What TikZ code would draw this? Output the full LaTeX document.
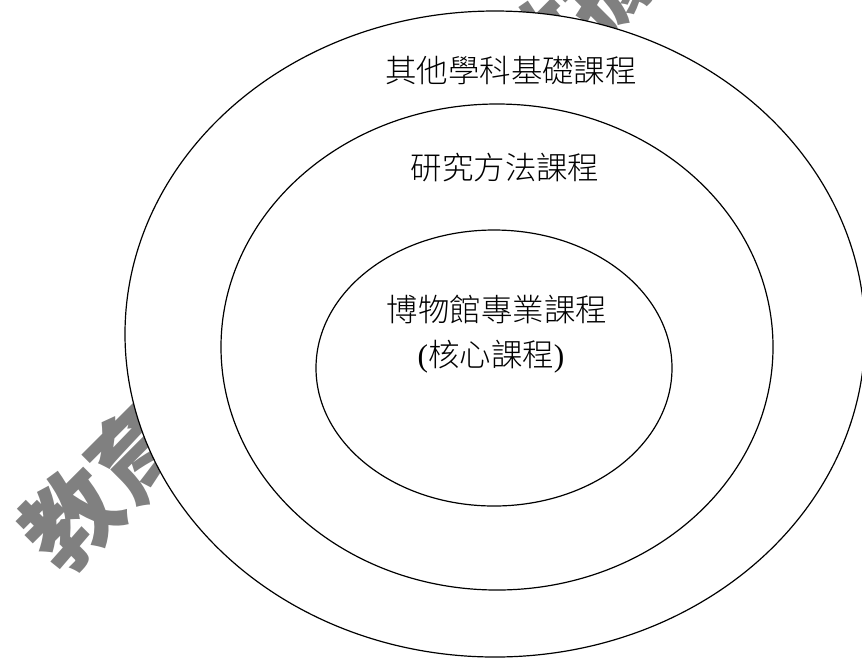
\documentclass[tikz,border=0pt]{standalone}
\usepackage{fontspec}
\setmainfont{Liberation Serif}
\newfontfamily\cjk{Noto Sans CJK TC}
\newfontfamily\cjklight{Noto Sans CJK TC Light}

\begin{document}
\begin{tikzpicture}[x=0.75pt,y=-0.75pt,
    ring/.style={draw,fill=white,line width=0.9pt},
    course/.style={font=\cjklight\fontsize{23.6}{28}\selectfont,inner sep=0pt}]
  \useasboundingbox (0,0) rectangle (862,658);
  \clip (0,0) rectangle (862,658);
  % watermark behind the rings
  \node[rotate=45,text=black!50,font=\cjk\bfseries\fontsize{71}{71}\selectfont,inner sep=0pt]
    (wm) at (373,217) {教育部高等教育數據庫};

  \coordinate (outer)  at (495,334);
  \coordinate (middle) at (497,347);
  \coordinate (inner)  at (494,368);
  \draw[ring] (outer)  ellipse [x radius=370, y radius=323];
  \draw[ring] (middle) ellipse [x radius=276, y radius=243];
  \draw[ring] (inner)  ellipse [x radius=178, y radius=138];

  \node[course] (other)  at (511,70)  {其他學科基礎課程};
  \node[course] (method) at (505,168) {研究方法課程};
  \node[course] (core)   at (497,309) {博物館專業課程};
  \node[course] (paren)  at (491,357) {{\rmfamily(}核心課程{\rmfamily)}};
\end{tikzpicture}
\end{document}
